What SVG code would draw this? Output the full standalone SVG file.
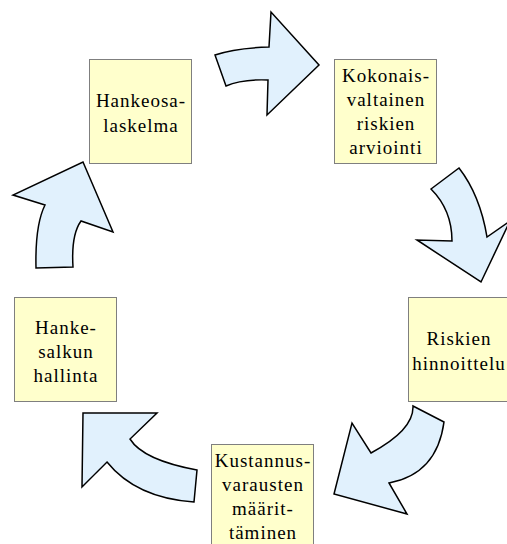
<svg xmlns="http://www.w3.org/2000/svg" width="507" height="544" viewBox="0 0 507 544">
  <style>
    .box { fill: #FFFFCC; stroke: #7F7F7F; stroke-width: 1; }
    .lbl { font-family: "Liberation Serif", "Times New Roman", serif; font-size: 19px; letter-spacing: 1px; fill: #000; text-anchor: middle; }
    .arrow { fill: #E1F1FD; stroke: #000; stroke-width: 1.5; stroke-linejoin: miter; }
  </style>
  <rect width="507" height="544" fill="#FFFFFF"/>

  <!-- cycle arrows between the steps -->
  <g id="connectors">
    <path class="arrow" d="M215,55 Q235,48 269,47 L271,12 L319,65 L267,115 L268,80 Q242,79 226,86 Z"/>
    <path class="arrow" d="M431,189 L459,168 Q480,195 487,237 L510,221 L481,282 L417,240 L452,241 Q452,210 431,189 Z"/>
    <path class="arrow" d="M413,406 L444,422 Q437,474 389,483 L407,514 L334,494 L352,423 L371,453 Q414,430 413,406 Z"/>
    <path class="arrow" d="M83,413 L157,413 L130,439 Q143,460 197,470 L194,502 Q136,498 107,462 L82,487 Z"/>
    <path class="arrow" d="M83,162 L113,232 L81,221 Q71,235 73,267 L36,268 Q35,225 45,205 L13,195 Z"/>
  </g>

  <g id="hankeosalaskelma">
    <rect class="box" x="89.5" y="59.5" width="102" height="104"/>
    <text class="lbl" x="141" y="107">Hankeosa-</text>
    <text class="lbl" x="141" y="132">laskelma</text>
  </g>

  <g id="riskiarviointi">
    <rect class="box" x="334.5" y="59.5" width="102" height="104"/>
    <text class="lbl" x="386" y="82">Kokonais-</text>
    <text class="lbl" x="386" y="106">valtainen</text>
    <text class="lbl" x="386" y="130">riskien</text>
    <text class="lbl" x="386" y="154">arviointi</text>
  </g>

  <g id="riskien-hinnoittelu">
    <rect class="box" x="408.5" y="297.5" width="102" height="104"/>
    <text class="lbl" x="459" y="345">Riskien</text>
    <text class="lbl" x="459" y="370">hinnoittelu</text>
  </g>

  <g id="kustannusvaraukset">
    <rect class="box" x="211.5" y="444.5" width="102" height="104"/>
    <text class="lbl" x="263" y="467">Kustannus-</text>
    <text class="lbl" x="263" y="491">varausten</text>
    <text class="lbl" x="263" y="515">määrit-</text>
    <text class="lbl" x="263" y="539">täminen</text>
  </g>

  <g id="hankesalkun-hallinta">
    <rect class="box" x="14.5" y="297.5" width="102" height="104"/>
    <text class="lbl" x="66" y="334">Hanke-</text>
    <text class="lbl" x="66" y="358">salkun</text>
    <text class="lbl" x="66" y="382">hallinta</text>
  </g>
</svg>
